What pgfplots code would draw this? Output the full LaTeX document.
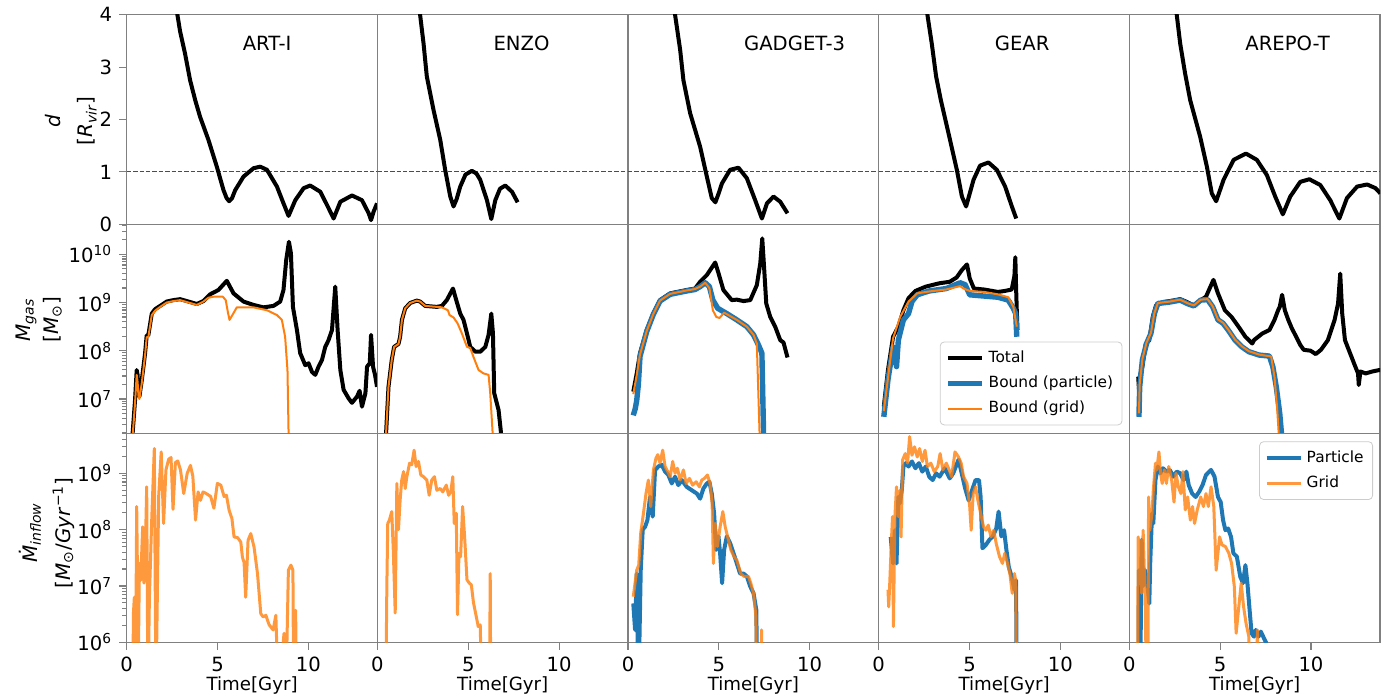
\documentclass[border=0pt]{standalone}
\usepackage{fontspec}
\setmainfont{DejaVu Sans}
\usepackage{pgfplots}
\pgfplotsset{compat=1.18}
\definecolor{tabblue}{HTML}{1F77B4}
\definecolor{taborange}{HTML}{FF7F0E}
\definecolor{framegray}{HTML}{808080}
\definecolor{legframe}{HTML}{CCCCCC}
\newcommand\tickfont{\fontsize{9.8}{11.5}\selectfont}
\newcommand\labfont{\fontsize{10}{12}\selectfont}
\newcommand\titfont{\fontsize{9.8}{11.5}\selectfont}
\newcommand\xlabfont{\fontsize{9.1}{11}\selectfont}
\newcommand\legfont{\fontsize{7.7}{9.2}\selectfont}
\tikzset{ylab/.style={rotate=90, anchor=center, align=center, font=\labfont, inner sep=0pt}}
\pgfplotsset{
  panel/.style={scale only axis, width=125.35pt, xmin=0, xmax=13.8,
    axis line style={framegray, line width=0.55pt},
    tick style={framegray, line width=0.55pt},
    major tick length=3.8pt, minor tick length=2.2pt,
    tick align=outside, xtick pos=left, ytick pos=left,
    xtick=\empty, ytick=\empty,
    ticklabel style={font=\tickfont, text=black},
    /pgf/number format/assume math mode=true,
    xlabel style={font=\xlabfont, yshift=4.5pt},
    anchor=south west},
  toprow/.style={panel, height=104.8pt, ymin=0, ymax=4},
  midrow/.style={panel, height=104.5pt, ymin=1.94e6, ymax=4.19e10},
  botrow/.style={panel, height=104.5pt, ymin=1e6, ymax=5.13e9, xtick={0,5,10}, xlabel={Time[Gyr]}},
  topfirst/.style={ytick={0,1,2,3,4}},
  midfirst/.style={ytick={1e7,1e8,1e9,1e10},
    yticklabels={10\textsuperscript{7},10\textsuperscript{8},10\textsuperscript{9},10\textsuperscript{10}},
    minor ytick={2e6,3e6,4e6,5e6,6e6,7e6,8e6,9e6,2e7,3e7,4e7,5e7,6e7,7e7,8e7,9e7,2e8,3e8,4e8,5e8,6e8,7e8,8e8,9e8,2e9,3e9,4e9,5e9,6e9,7e9,8e9,9e9,2e10,3e10,4e10}},
  botfirst/.style={ytick={1e6,1e7,1e8,1e9},
    yticklabels={10\textsuperscript{6},10\textsuperscript{7},10\textsuperscript{8},10\textsuperscript{9}},
    minor ytick={2e6,3e6,4e6,5e6,6e6,7e6,8e6,9e6,2e7,3e7,4e7,5e7,6e7,7e7,8e7,9e7,2e8,3e8,4e8,5e8,6e8,7e8,8e8,9e8,2e9,3e9,4e9,5e9}},
  tot/.style={black, line width=2pt, line join=round},
  bpart/.style={tabblue, line width=2.7pt, line join=round},
  bgrid/.style={taborange, line width=1pt, line join=round},
  ipart/.style={tabblue, line width=2pt, line join=round},
  igrid/.style={taborange, opacity=0.8, line width=1.5pt, line join=round},
  dline/.style={red, line width=0.5pt, dash pattern=on 2.2pt off 1pt},
  legbox/.style={draw=legframe, rounded corners=2pt, fill=white, fill opacity=0.8, text opacity=1, font=\legfont, row sep=1.2pt, inner sep=2.5pt},
}
\begin{document}
\begin{tikzpicture}
\path[use as bounding box] (0,0) rectangle (700pt,349pt);
% ================= TOP ROW =================
\begin{axis}[toprow, topfirst, at={(63.35pt,236.85pt)}, clip=false]
\begin{scope}
\clip (rel axis cs:0,0) rectangle (rel axis cs:1,1);
\addplot[dline] coordinates {(0,1) (13.8,1)};
\addplot[tot] table {
t d
2.55 4.6
2.79 4.0
2.94 3.68
3.21 3.26
3.49 2.75
3.77 2.37
4.04 2.05
4.50 1.61
4.96 1.10
5.33 0.65
5.50 0.50
5.64 0.44
5.80 0.50
5.97 0.65
6.43 0.91
6.98 1.07
7.35 1.10
7.72 1.04
8.27 0.72
8.63 0.40
8.91 0.16
9.28 0.46
9.74 0.69
10.10 0.74
10.66 0.62
11.11 0.31
11.39 0.11
11.76 0.43
12.40 0.55
12.95 0.46
13.32 0.21
13.45 0.08
13.59 0.24
13.78 0.40
};
\end{scope}
\node[anchor=west, font=\titfont] at (rel axis cs:0.435,0.864) {ART-I};
\node[ylab] at (rel axis cs:-0.222,0.493) {\textit{d}\\[4pt]{[}\textit{R}\textsubscript{\textit{vir}}{]}};
\end{axis}
\begin{axis}[toprow, at={(188.7pt,236.85pt)}]
\addplot[dline] coordinates {(0,1) (13.8,1)};
\addplot[tot] table {
t d
2.20 4.6
2.35 4.0
2.54 3.45
2.72 2.82
3.09 2.18
3.46 1.61
3.73 1.04
4.01 0.53
4.19 0.34
4.36 0.48
4.56 0.72
4.85 0.95
5.20 1.02
5.45 0.97
5.66 0.85
6.03 0.46
6.27 0.10
6.49 0.46
6.75 0.68
7.04 0.74
7.41 0.62
7.72 0.42
};
\node[anchor=west, font=\titfont] at (rel axis cs:0.435,0.864) {ENZO};
\end{axis}
\begin{axis}[toprow, at={(314pt,236.85pt)}]
\addplot[dline] coordinates {(0,1) (13.8,1)};
\addplot[tot] table {
t d
2.50 4.6
2.59 4.0
2.87 3.33
3.05 2.75
3.42 2.12
3.97 1.48
4.34 0.91
4.61 0.50
4.81 0.42
5.00 0.60
5.17 0.78
5.62 1.04
6.08 1.08
6.54 0.88
7.00 0.46
7.37 0.11
7.65 0.40
8.01 0.53
8.38 0.43
8.78 0.21
};
\node[anchor=west, font=\titfont] at (rel axis cs:0.435,0.864) {GADGET-3};
\end{axis}
\begin{axis}[toprow, at={(439.35pt,236.85pt)}]
\addplot[dline] coordinates {(0,1) (13.8,1)};
\addplot[tot] table {
t d
2.55 4.6
2.68 4.0
2.92 3.45
3.16 2.82
3.42 2.37
3.84 1.74
4.30 1.04
4.58 0.53
4.81 0.34
5.02 0.60
5.22 0.85
5.58 1.12
6.04 1.18
6.50 1.04
6.96 0.72
7.33 0.34
7.57 0.11
};
\node[anchor=west, font=\titfont] at (rel axis cs:0.435,0.864) {GEAR};
\end{axis}
\begin{axis}[toprow, at={(564.65pt,236.85pt)}]
\addplot[dline] coordinates {(0,1) (13.8,1)};
\addplot[tot] table {
t d
2.50 4.6
2.61 4.0
2.80 3.45
3.07 2.88
3.35 2.37
3.90 1.67
4.27 1.10
4.54 0.59
4.78 0.44
5.19 0.85
5.74 1.23
6.42 1.35
7.02 1.23
7.57 0.94
8.03 0.53
8.45 0.19
8.86 0.53
9.41 0.81
9.91 0.86
10.51 0.75
11.06 0.46
11.56 0.11
11.98 0.50
12.54 0.72
13.09 0.76
13.55 0.69
13.82 0.59
};
\node[anchor=west, font=\titfont] at (rel axis cs:0.435,0.864) {AREPO-T};
\end{axis}
% ================= MIDDLE ROW =================
\begin{axis}[ymode=log, midrow, midfirst, at={(63.35pt,132.35pt)}, clip=false]
\begin{scope}
\clip (rel axis cs:0,0) rectangle (rel axis cs:1,1);
\addplot[tot] table[x=t, y expr=10^\thisrow{l}] {
t l
0.28 5.0
0.33 6.31
0.46 6.98
0.55 7.60
0.60 7.50
0.65 7.10
0.70 7.05
0.83 7.39
1.01 7.94
1.10 8.32
1.19 8.32
1.38 8.77
1.56 8.86
1.84 8.93
2.20 9.02
2.57 9.05
2.94 9.07
3.31 9.03
3.86 8.97
4.22 9.03
4.59 9.17
5.05 9.26
5.51 9.45
5.88 9.19
6.43 9.02
6.98 8.95
7.53 8.90
8.08 8.93
8.45 9.02
8.63 9.26
8.78 9.88
8.93 10.26
9.04 10.02
9.15 8.91
9.37 8.43
9.55 7.95
9.83 7.70
10.01 7.74
10.20 7.56
10.38 7.50
10.56 7.67
10.75 7.81
10.93 8.08
11.11 8.22
11.30 8.43
11.48 9.33
11.61 8.43
11.76 7.60
11.94 7.19
12.22 7.01
12.40 6.92
12.68 7.05
12.82 7.17
12.95 6.84
13.14 7.12
13.23 7.67
13.38 7.74
13.45 8.33
13.56 7.67
13.67 7.50
13.78 7.25
};
\addplot[bgrid] table[x=t, y expr=10^\thisrow{l}] {
t l
0.28 5.0
0.33 6.25
0.46 6.92
0.55 7.50
0.60 7.35
0.65 7.05
0.70 7.00
0.83 7.33
1.01 7.90
1.10 8.28
1.19 8.28
1.38 8.74
1.56 8.83
1.84 8.91
2.20 9.00
2.57 9.03
2.94 9.05
3.31 9.01
3.86 8.95
4.22 9.02
4.50 9.10
4.77 9.12
5.29 9.12
5.45 9.05
5.58 8.78
5.66 8.64
5.88 8.78
6.06 8.90
6.98 8.90
7.72 8.84
8.27 8.74
8.54 8.64
8.72 8.29
8.85 7.60
8.91 6.29
8.93 5.0
};
\end{scope}
\node[ylab] at (rel axis cs:-0.350,0.543) {\textit{M}\textsubscript{\textit{gas}}\\[2pt]{[}\textit{M}\textsubscript{⊙}{]}};
\end{axis}
\begin{axis}[ymode=log, midrow, at={(188.7pt,132.35pt)}]
\addplot[tot] table[x=t, y expr=10^\thisrow{l}] {
t l
0.45 5.0
0.48 6.31
0.61 7.25
0.79 7.81
0.92 8.08
1.16 8.14
1.25 8.29
1.35 8.64
1.53 8.88
1.80 8.99
2.17 9.04
2.35 9.02
2.63 8.93
3.27 8.91
3.55 8.93
3.82 9.05
4.16 9.29
4.34 9.05
4.56 8.77
4.74 8.64
4.93 8.36
5.11 8.08
5.39 7.98
5.66 7.98
5.94 8.08
6.12 8.33
6.27 8.77
6.36 8.36
6.43 7.12
6.67 6.77
6.80 6.31
6.85 5.0
};
\addplot[bgrid] table[x=t, y expr=10^\thisrow{l}] {
t l
0.45 5.0
0.48 6.31
0.61 7.25
0.79 7.81
0.92 8.08
1.16 8.14
1.25 8.29
1.35 8.64
1.53 8.88
1.80 8.99
2.17 9.04
2.35 9.02
2.63 8.93
3.27 8.91
3.55 8.90
3.88 8.84
3.97 8.74
4.19 8.69
4.41 8.57
4.65 8.36
4.93 8.08
5.11 8.06
5.29 7.87
5.57 7.60
5.84 7.53
6.12 7.50
6.21 7.12
6.34 6.31
6.37 5.0
};
\end{axis}
\begin{axis}[ymode=log, midrow, at={(314pt,132.35pt)}]
\addplot[tot] table[x=t, y expr=10^\thisrow{l}] {
t l
0.29 7.15
0.48 7.53
0.66 7.95
1.03 8.43
1.39 8.77
1.76 9.05
2.32 9.19
3.23 9.26
3.69 9.29
3.97 9.43
4.34 9.57
4.80 9.83
4.98 9.61
5.25 9.26
5.71 9.05
5.99 9.06
6.36 9.03
6.73 9.05
7.09 9.36
7.28 9.81
7.39 10.33
7.50 9.67
7.61 8.98
7.83 8.70
8.10 8.50
8.38 8.22
8.56 8.17
8.78 7.86
};
\addplot[bpart] table[x=t, y expr=10^\thisrow{l}] {
t l
0.29 6.66
0.40 6.80
0.48 6.97
0.57 7.30
0.66 7.88
1.03 8.40
1.39 8.75
1.76 9.03
2.32 9.17
3.23 9.24
3.69 9.27
3.97 9.33
4.25 9.41
4.48 9.33
4.67 9.05
4.94 8.88
5.44 8.77
5.99 8.64
6.54 8.50
6.91 8.33
7.18 8.12
7.37 7.95
7.46 6.31
7.48 5.0
};
\addplot[bgrid] table[x=t, y expr=10^\thisrow{l}] {
t l
0.29 7.10
0.48 7.50
0.66 7.92
1.03 8.41
1.39 8.76
1.76 9.04
2.32 9.18
3.23 9.25
3.69 9.28
3.97 9.33
4.25 9.41
4.48 9.30
4.67 8.84
4.86 8.70
5.04 8.68
5.29 8.79
5.99 8.64
6.54 8.50
6.91 8.33
7.09 8.15
7.24 6.31
7.26 5.0
};
\end{axis}
\begin{axis}[ymode=log, midrow, at={(439.35pt,132.35pt)},
  legend style={legbox, at={(rel axis cs:1,0)}, anchor=south east, xshift=-3.5pt, yshift=4pt},
  legend cell align=left]
\addplot[tot] table[x=t, y expr=10^\thisrow{l}] {
t l
0.28 6.84
0.51 7.60
0.79 8.29
1.08 8.50
1.36 8.84
1.64 9.09
2.02 9.24
2.59 9.33
3.35 9.40
3.91 9.43
4.29 9.52
4.57 9.67
4.86 9.79
5.01 9.50
5.24 9.29
5.80 9.27
6.56 9.22
6.94 9.24
7.32 9.27
7.47 9.55
7.52 9.94
7.56 9.33
7.60 8.84
7.64 8.43
};
\addlegendentry{Total}
\addplot[bpart] table[x=t, y expr=10^\thisrow{l}] {
t l
0.28 6.63
0.51 7.40
0.79 8.08
0.98 7.67
1.08 8.22
1.36 8.64
1.64 8.77
1.83 9.02
2.12 9.16
2.78 9.24
3.72 9.29
4.48 9.41
4.76 9.37
5.01 9.16
5.61 9.14
6.56 9.11
7.13 9.05
7.41 8.88
7.54 8.77
7.60 8.29
};
\addlegendentry{Bound (particle)}
\addplot[bgrid] table[x=t, y expr=10^\thisrow{l}] {
t l
0.28 6.75
0.79 8.26
1.18 8.70
1.64 9.02
2.12 9.19
2.78 9.23
3.72 9.27
4.48 9.34
4.67 9.29
5.01 9.24
5.80 9.22
6.56 9.17
7.13 9.11
7.41 8.91
7.60 8.50
};
\addlegendentry{Bound (grid)}
\end{axis}
\begin{axis}[ymode=log, midrow, at={(564.65pt,132.35pt)}]
\addplot[tot] table[x=t, y expr=10^\thisrow{l}] {
t l
0.49 7.46
0.53 7.20
0.57 7.46
0.72 7.67
0.91 8.15
1.10 8.22
1.29 8.70
1.47 8.94
1.85 9.01
2.23 9.03
2.80 9.07
3.18 9.01
3.55 8.94
3.93 9.05
4.22 9.12
4.63 9.47
4.88 9.19
5.26 8.84
5.63 8.70
6.01 8.50
6.39 8.29
6.77 8.15
6.86 8.22
7.33 8.36
7.71 8.43
7.99 8.64
8.19 8.84
8.28 8.91
8.41 9.16
8.56 8.84
8.75 8.64
8.94 8.47
9.13 8.33
9.41 8.12
9.60 8.02
9.98 8.00
10.26 7.93
10.55 8.02
10.93 8.22
11.30 8.64
11.49 8.98
11.61 9.60
11.72 8.77
11.87 8.22
12.15 7.95
12.44 7.67
12.59 7.53
12.63 7.29
12.72 7.57
13.01 7.53
13.38 7.57
13.76 7.60
13.80 7.60
};
\addplot[bpart] table[x=t, y expr=10^\thisrow{l}] {
t l
0.53 6.63
0.57 7.25
0.72 7.81
0.95 8.15
1.19 8.36
1.38 8.77
1.57 8.98
2.23 9.01
2.80 9.05
3.18 8.98
3.55 8.93
3.93 9.05
4.31 9.06
4.59 8.91
4.88 8.64
5.16 8.57
5.44 8.43
5.82 8.22
6.20 8.08
6.58 7.98
7.15 7.91
7.71 7.89
7.90 7.67
8.09 7.25
8.28 6.70
8.37 6.31
8.40 5.0
};
\addplot[bgrid] table[x=t, y expr=10^\thisrow{l}] {
t l
0.53 6.70
0.57 7.30
0.72 7.83
0.95 8.17
1.19 8.37
1.38 8.78
1.57 8.99
2.23 9.02
2.80 9.06
3.18 8.99
3.55 8.94
3.93 9.06
4.31 9.07
4.59 8.92
4.88 8.65
5.16 8.58
5.44 8.44
5.82 8.23
6.20 8.09
6.58 7.99
7.15 7.92
7.81 7.88
7.99 7.46
8.13 6.84
8.22 6.31
8.24 5.0
};
\end{axis}
% ================= BOTTOM ROW =================
\begin{axis}[ymode=log, botrow, botfirst, at={(63.35pt,27.85pt)}, clip=false]
\begin{scope}
\clip (rel axis cs:0,0) rectangle (rel axis cs:1,1);
\addplot[igrid] table[x=t, y expr=10^\thisrow{l}] {
t l
0.33 5.0
0.37 6.51
0.42 6.80
0.48 5.0
0.55 8.41
0.60 7.0
0.62 5.0
0.70 7.40
0.77 7.10
0.88 8.05
0.95 7.05
1.05 8.00
1.10 8.76
1.17 5.0
1.25 6.80
1.38 8.20
1.52 9.44
1.61 5.0
1.76 8.59
1.90 9.38
2.03 8.11
2.16 9.06
2.31 9.25
2.44 9.28
2.55 8.36
2.68 9.19
2.81 9.22
2.96 9.06
3.14 8.64
3.33 9.00
3.51 9.14
3.64 8.95
3.79 8.17
3.93 8.67
4.06 8.52
4.20 8.67
4.38 8.64
4.62 8.59
4.80 8.38
4.99 8.82
5.18 8.79
5.36 8.59
5.49 8.61
5.64 8.34
5.79 8.20
5.91 7.87
6.10 7.86
6.28 7.78
6.37 7.51
6.46 7.42
6.55 6.80
6.68 7.81
6.83 7.93
7.01 7.69
7.20 7.22
7.38 6.51
7.51 6.45
7.66 6.48
7.84 6.31
8.06 6.22
8.21 6.48
8.35 5.0
8.66 6.16
8.76 5.0
8.90 7.28
9.04 7.37
9.15 7.28
9.19 5.0
9.30 6.57
9.34 5.0
};
\end{scope}
\node[ylab] at (rel axis cs:-0.320,0.524) {\textit{Ṁ}\textsubscript{\textit{inflow}}\\[4.5pt]{[}\textit{M}\textsubscript{⊙}/\textit{Gyr}\textsuperscript{−1}{]}};
\end{axis}
\begin{axis}[ymode=log, botrow, at={(188.7pt,27.85pt)}]
\addplot[igrid] table[x=t, y expr=10^\thisrow{l}] {
t l
0.46 5.0
0.52 7.0
0.57 8.11
0.66 8.17
0.79 8.32
0.88 7.58
0.98 6.52
1.07 8.82
1.16 8.00
1.25 8.52
1.34 8.88
1.44 9.03
1.53 8.73
1.62 8.94
1.77 9.18
1.89 9.15
2.02 9.41
2.13 9.12
2.26 9.21
2.39 8.97
2.54 8.94
2.72 8.88
2.85 8.61
2.99 8.88
3.14 8.94
3.27 8.70
3.46 8.73
3.60 8.67
3.79 8.79
3.92 8.61
4.04 8.67
4.15 8.94
4.23 8.11
4.34 8.29
4.41 6.49
4.49 7.58
4.58 7.52
4.69 8.41
4.80 7.88
4.93 7.11
5.06 7.05
5.17 7.02
5.29 6.70
5.44 6.46
5.55 6.28
5.66 6.31
5.75 5.0
6.17 5.0
6.21 7.22
6.24 5.0
};
\end{axis}
\begin{axis}[ymode=log, botrow, at={(314pt,27.85pt)}]
\addplot[ipart] table[x=t, y expr=10^\thisrow{l}] {
t l
0.29 6.69
0.39 6.22
0.48 7.22
0.57 5.0
0.70 7.28
0.81 8.00
0.94 8.05
1.07 8.17
1.21 8.58
1.36 8.23
1.49 9.06
1.67 9.12
1.86 9.15
2.04 9.03
2.22 8.97
2.41 8.82
2.59 8.94
2.77 8.79
2.96 8.88
3.23 8.76
3.51 8.70
3.79 8.64
3.97 8.55
4.15 8.73
4.34 8.82
4.48 8.85
4.61 8.64
4.74 8.29
4.85 7.64
4.98 7.88
5.07 7.58
5.18 7.05
5.29 7.64
5.44 7.88
5.62 7.76
5.81 7.58
5.99 7.40
6.17 7.22
6.36 7.22
6.54 7.17
6.73 6.99
6.91 6.87
7.06 6.58
7.13 5.0
};
\addplot[igrid] table[x=t, y expr=10^\thisrow{l}] {
t l
0.29 6.81
0.48 7.28
0.59 7.37
0.70 7.94
0.85 8.29
0.99 8.64
1.12 8.88
1.25 8.41
1.40 9.06
1.54 9.27
1.64 9.33
1.76 9.18
1.91 9.41
2.04 9.12
2.19 9.03
2.32 8.94
2.46 9.21
2.59 9.00
2.72 9.09
2.87 8.88
3.05 9.06
3.20 8.82
3.38 8.91
3.56 8.79
3.75 8.85
3.93 8.76
4.06 8.88
4.21 8.91
4.37 8.97
4.52 8.82
4.63 8.47
4.70 7.40
4.80 8.11
4.92 7.70
5.07 8.05
5.22 8.32
5.35 8.05
5.48 7.88
5.66 7.64
5.84 7.52
5.99 7.46
6.21 7.22
6.39 7.17
6.63 7.17
6.76 7.05
6.91 6.87
7.04 6.46
7.09 5.0
7.31 5.0
7.35 6.22
7.39 5.0
};
\end{axis}
\begin{axis}[ymode=log, botrow, at={(439.35pt,27.85pt)}]
\addplot[ipart] table[x=t, y expr=10^\thisrow{l}] {
t l
0.66 7.87
0.79 7.40
0.89 7.99
0.98 7.40
1.08 8.58
1.17 8.47
1.27 8.70
1.36 9.12
1.49 9.18
1.64 9.12
1.83 9.21
2.02 9.09
2.21 9.18
2.40 9.03
2.59 9.12
2.78 8.94
2.97 8.88
3.16 9.00
3.35 8.94
3.63 9.09
3.91 8.91
4.10 9.00
4.39 9.24
4.57 9.00
4.76 8.73
4.95 8.52
5.14 8.70
5.33 8.88
5.52 8.88
5.61 8.58
5.71 7.67
5.90 7.73
6.09 7.82
6.28 7.88
6.47 8.02
6.60 8.32
6.75 7.88
6.90 7.99
7.03 7.64
7.16 7.34
7.32 7.16
7.47 6.93
7.56 7.10
7.60 5.0
};
\addplot[igrid] table[x=t, y expr=10^\thisrow{l}] {
t l
0.51 6.93
0.55 6.63
0.60 6.99
0.70 7.81
0.76 8.23
0.81 6.28
0.89 8.23
0.98 8.76
1.08 8.23
1.17 8.70
1.23 7.87
1.32 9.24
1.46 9.35
1.59 9.18
1.70 9.65
1.83 9.32
1.97 9.47
2.12 9.29
2.25 9.44
2.40 9.21
2.55 9.41
2.68 9.12
2.87 9.18
3.06 9.03
3.25 9.12
3.38 9.35
3.53 9.06
3.72 9.18
3.88 9.06
4.01 8.94
4.20 9.38
4.39 9.29
4.54 9.18
4.67 8.94
4.86 8.82
5.01 8.41
5.09 7.99
5.20 8.64
5.33 8.76
5.46 8.52
5.61 8.29
5.77 8.05
5.90 7.99
6.03 8.08
6.18 7.87
6.33 7.99
6.47 7.75
6.65 7.52
6.81 7.40
6.94 7.58
7.09 7.40
7.22 7.22
7.35 6.87
7.47 7.22
7.54 7.10
7.60 5.0
};
\end{axis}
\begin{axis}[ymode=log, botrow, at={(564.65pt,27.85pt)},
  legend style={legbox, at={(rel axis cs:1,1)}, anchor=north east, xshift=-3.5pt, yshift=-4pt},
  legend cell align=left]
\addplot[ipart] table[x=t, y expr=10^\thisrow{l}] {
t l
0.49 5.0
0.53 7.28
0.59 5.0
0.68 7.82
0.76 7.00
0.87 7.28
1.00 7.00
1.10 6.69
1.15 7.40
1.25 8.29
1.32 8.11
1.44 8.88
1.57 9.12
1.70 9.00
1.85 9.09
2.04 9.03
2.23 9.06
2.42 8.94
2.61 9.03
2.80 9.00
2.99 8.88
3.14 9.03
3.27 8.79
3.46 8.64
3.65 8.58
3.84 8.67
4.03 8.79
4.22 8.97
4.40 9.03
4.50 9.06
4.69 8.94
4.88 8.58
5.03 8.49
5.16 8.17
5.29 7.99
5.44 8.02
5.60 7.87
5.73 7.58
5.92 7.52
6.11 7.16
6.26 7.05
6.39 7.37
6.50 7.05
6.62 6.58
6.73 6.16
6.86 6.10
6.96 6.22
7.11 6.10
7.24 6.19
7.37 6.10
7.52 6.00
7.60 5.0
};
\addlegendentry{Particle}
\addplot[igrid] table[x=t, y expr=10^\thisrow{l}] {
t l
0.45 5.0
0.49 7.87
0.57 7.10
0.62 7.81
0.68 6.87
0.76 7.99
0.87 6.81
0.95 5.0
1.02 5.0
1.06 8.58
1.13 7.99
1.25 8.29
1.32 8.70
1.44 9.18
1.51 9.06
1.63 9.38
1.72 9.00
1.81 8.82
1.93 9.06
2.04 8.82
2.17 9.12
2.33 8.88
2.46 8.49
2.57 9.00
2.70 8.76
2.84 8.64
2.95 9.03
3.08 8.35
3.21 8.58
3.36 8.17
3.48 8.41
3.59 8.11
3.74 8.35
3.93 8.58
4.08 8.41
4.22 8.64
4.35 8.41
4.50 8.76
4.65 8.41
4.78 7.28
4.97 7.87
5.10 7.73
5.29 7.70
5.48 7.58
5.63 7.40
5.78 6.99
5.88 6.16
6.01 6.58
6.16 7.05
6.29 6.63
6.43 6.33
6.58 6.10
6.67 5.0
6.96 5.0
7.05 6.22
7.15 5.0
};
\addlegendentry{Grid}
\end{axis}
\end{tikzpicture}
\end{document}
